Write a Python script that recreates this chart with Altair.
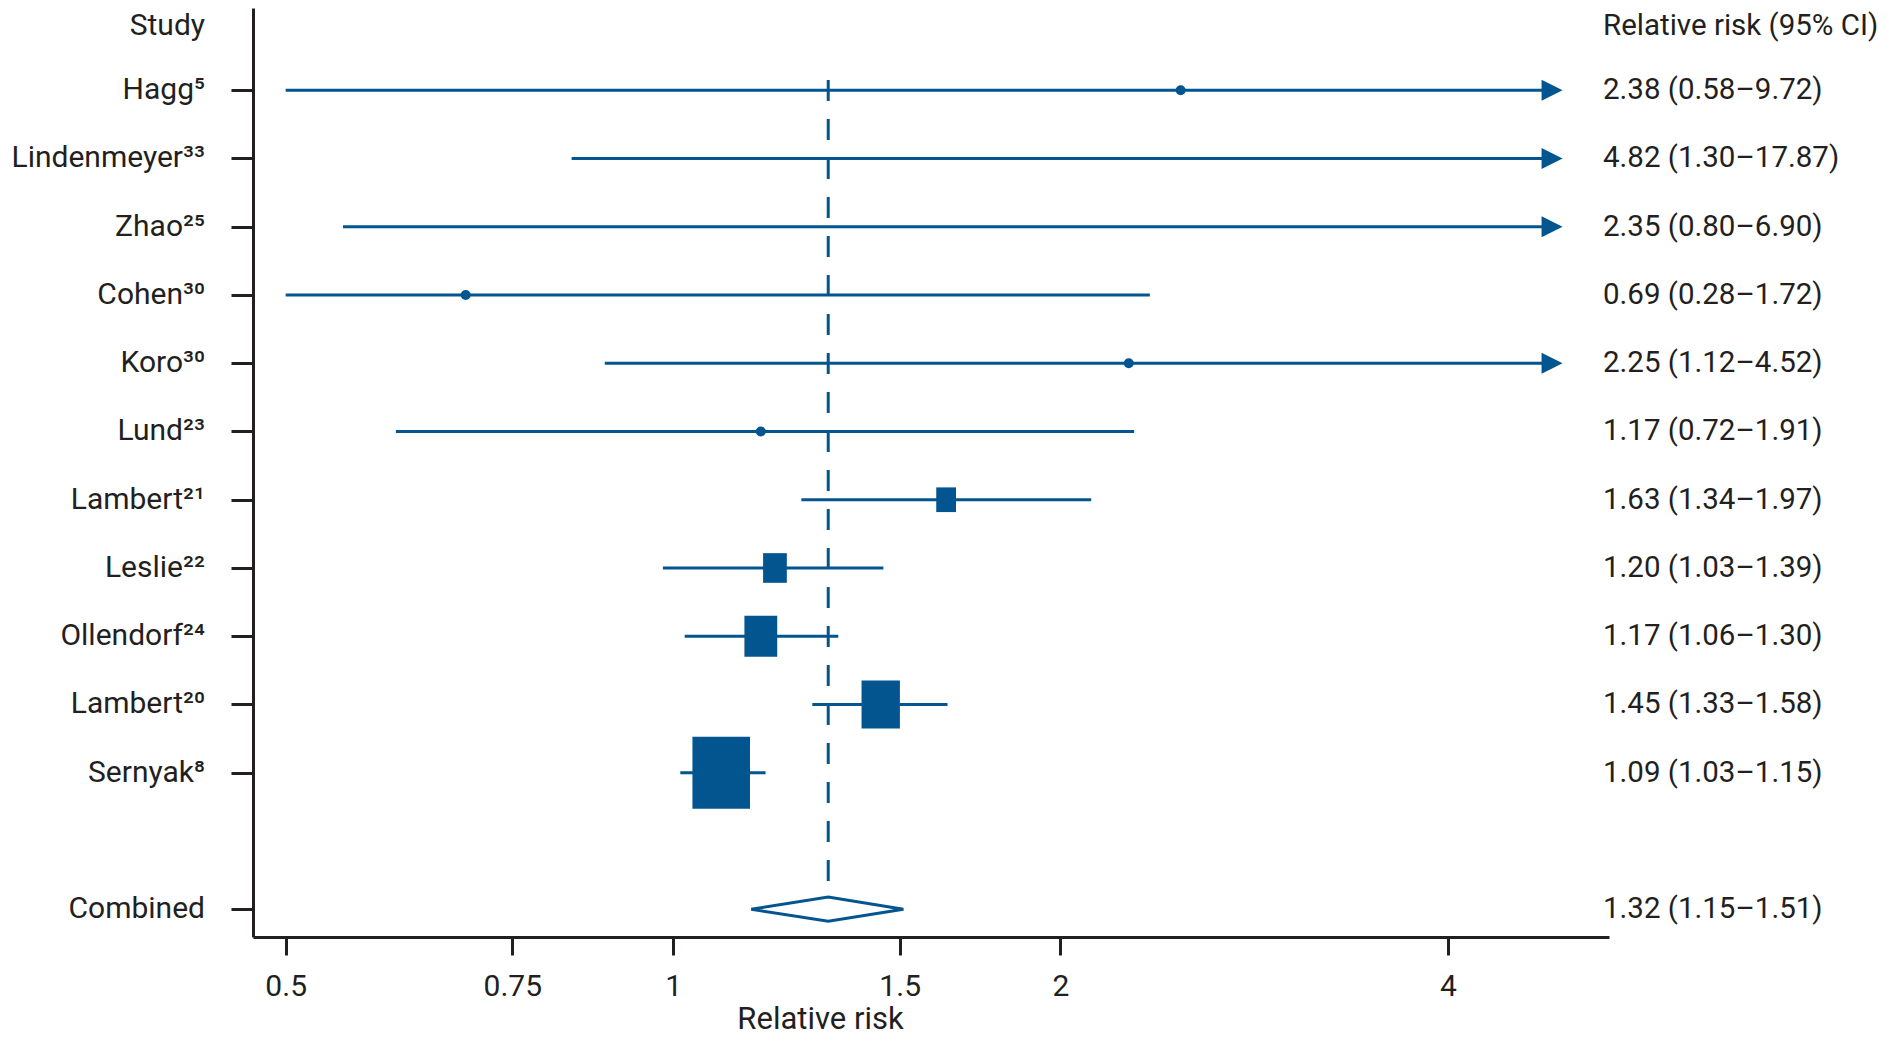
import altair as alt
import pandas as pd

# ---------------- data ----------------
studies = ["Hagg⁵", "Lindenmeyer³³", "Zhao²⁵", "Cohen³⁰", "Koro³⁰", "Lund²³",
           "Lambert²¹", "Leslie²²", "Ollendorf²⁴", "Lambert²⁰", "Sernyak⁸"]
rr_text = ["2.38 (0.58–9.72)", "4.82 (1.30–17.87)", "2.35 (0.80–6.90)",
           "0.69 (0.28–1.72)", "2.25 (1.12–4.52)", "1.17 (0.72–1.91)",
           "1.63 (1.34–1.97)", "1.20 (1.03–1.39)", "1.17 (1.06–1.30)",
           "1.45 (1.33–1.58)", "1.09 (1.03–1.15)"]
# positions of the drawn marks
est = [2.48, None, None, 0.69, 2.26, 1.17, 1.63, 1.20, 1.17, 1.45, 1.09]
ci_lo = [0.50, 0.834, 0.554, 0.50, 0.885, 0.609, 1.258, 0.982, 1.021, 1.283, 1.013]
ci_hi = [4.82, 4.82, 4.82, 2.347, 4.82, 2.282, 2.113, 1.457, 1.344, 1.634, 1.180]
arrow = [True, True, True, False, True, False, False, False, False, False, False]
weight = [1, 0, 0, 1, 1, 1, 6.1, 8.8, 16.8, 23.0, 51.8]

pooled_label = "Combined"
pooled_est, pooled_lo, pooled_hi = 1.32, 1.15, 1.51
pooled_text = "1.32 (1.15–1.51)"
header_left = "Study"
header_right = "Relative risk (95% CI)"
x_ticks = [0.5, 0.75, 1, 1.5, 2, 4]
x_title = "Relative risk"

# ---------------- style ----------------
BLUE = "#02558f"
INK = "#231f20"
FONT = "Roboto"
FS = 30
DIAMOND_H = 0.177

rows = list(range(1, len(studies) + 1))
pooled_row = len(studies) + 2

df = pd.DataFrame({"row": rows, "study": studies, "text": rr_text, "est": est,
                   "lo": ci_lo, "hi": ci_hi, "arrow": arrow, "weight": weight})

xs = alt.Scale(type="log", domain=[0.4716, 5.337], nice=False)
ys = alt.Scale(domain=[-0.205, 13.407], reverse=True, nice=False, zero=False)

x_axis = alt.Axis(values=x_ticks, labelExpr="'' + datum.value", tickSize=18, tickWidth=3,
                  domainWidth=3, domainColor=INK, tickColor=INK, labelFontSize=FS,
                  labelFont=FONT, labelColor=INK, labelPadding=16, grid=False,
                  labelFlush=False, labelOverlap=False, title=x_title, titleFontSize=31,
                  titleFont=FONT, titleFontWeight="normal", titleColor=INK, titleX=567,
                  titleY=91, titleAlign="center", titleBaseline="alphabetic")
y_axis = alt.Axis(values=rows + [pooled_row], labels=False, title=None, tickSize=22,
                  tickWidth=3, domainWidth=3, domainColor=INK, tickColor=INK, grid=False)

ci = alt.Chart(df).mark_rule(color=BLUE, strokeWidth=3.2).encode(
    x=alt.X("lo:Q", scale=xs, axis=x_axis),
    x2="hi:Q",
    y=alt.Y("row:Q", scale=ys, axis=y_axis),
)

arrows = alt.Chart(df).transform_filter("datum.arrow").mark_point(
    shape="M-1,-1L1,0L-1,1Z", filled=True, size=441, color=BLUE, opacity=1, strokeWidth=0
).encode(x=alt.X("hi:Q", scale=xs), y=alt.Y("row:Q", scale=ys))

dots = alt.Chart(df).transform_filter("datum.weight > 0 && datum.weight < 2").mark_circle(
    size=100, color=BLUE, opacity=1
).encode(x=alt.X("est:Q", scale=xs), y=alt.Y("row:Q", scale=ys))

boxes = alt.Chart(df).transform_filter("datum.weight >= 2").mark_point(
    shape="M-0.8,-1H0.8V1H-0.8Z", filled=True, color=BLUE, opacity=1, strokeWidth=0
).encode(
    x=alt.X("est:Q", scale=xs), y=alt.Y("row:Q", scale=ys),
    size=alt.Size("weight:Q", scale=alt.Scale(domain=[0, 100], range=[0, 10000]), legend=None),
)

dash_df = pd.DataFrame({"est": [pooled_est], "y0": [rows[0] - 0.15],
                        "y1": [pooled_row - DIAMOND_H]})
dash = alt.Chart(dash_df).mark_rule(color=BLUE, strokeWidth=3, strokeDash=[21, 18]).encode(
    x=alt.X("est:Q", scale=xs), y=alt.Y("y0:Q", scale=ys), y2="y1:Q"
)

dia_df = pd.DataFrame({
    "x": [pooled_lo, pooled_est, pooled_hi, pooled_est, pooled_lo],
    "y": [pooled_row, pooled_row - DIAMOND_H, pooled_row, pooled_row + DIAMOND_H, pooled_row],
    "o": [0, 1, 2, 3, 4],
})
diamond = alt.Chart(dia_df).mark_line(color=BLUE, strokeWidth=3, strokeJoin="miter").encode(
    x=alt.X("x:Q", scale=xs), y=alt.Y("y:Q", scale=ys), order="o:Q"
)

txt_df = pd.DataFrame({
    "row": rows + [pooled_row],
    "left": studies + [pooled_label],
    "right": rr_text + [pooled_text],
})
head_df = pd.DataFrame({"row": [0], "left": [header_left], "right": [header_right]})

left_txt = alt.Chart(txt_df).mark_text(align="right", baseline="middle", fontSize=30,
                                       font=FONT, color=INK).encode(
    y=alt.Y("row:Q", scale=ys), x=alt.value(-48), text="left:N")
right_txt = alt.Chart(txt_df).mark_text(align="left", baseline="middle", fontSize=29.5,
                                        font=FONT, color=INK).encode(
    y=alt.Y("row:Q", scale=ys), x=alt.value(1350), text="right:N")
head_left = alt.Chart(head_df).mark_text(align="right", baseline="middle", fontSize=30,
                                         font=FONT, color=INK, dy=4).encode(
    y=alt.Y("row:Q", scale=ys), x=alt.value(-48), text="left:N")
head_right = alt.Chart(head_df).mark_text(align="left", baseline="middle", fontSize=29.5,
                                          font=FONT, color=INK, dy=4).encode(
    y=alt.Y("row:Q", scale=ys), x=alt.value(1350), text="right:N")

chart = alt.layer(ci, dash, arrows, dots, boxes, diamond,
                  left_txt, right_txt, head_left, head_right).properties(
    width=1356, height=929,
    autosize=alt.AutoSizeParams(type="none"),
    padding={"left": 245, "top": 0, "right": 276, "bottom": 97},
).configure_view(stroke=None)

chart.save("out.html", embed_options={"renderer": "svg", "actions": False})
